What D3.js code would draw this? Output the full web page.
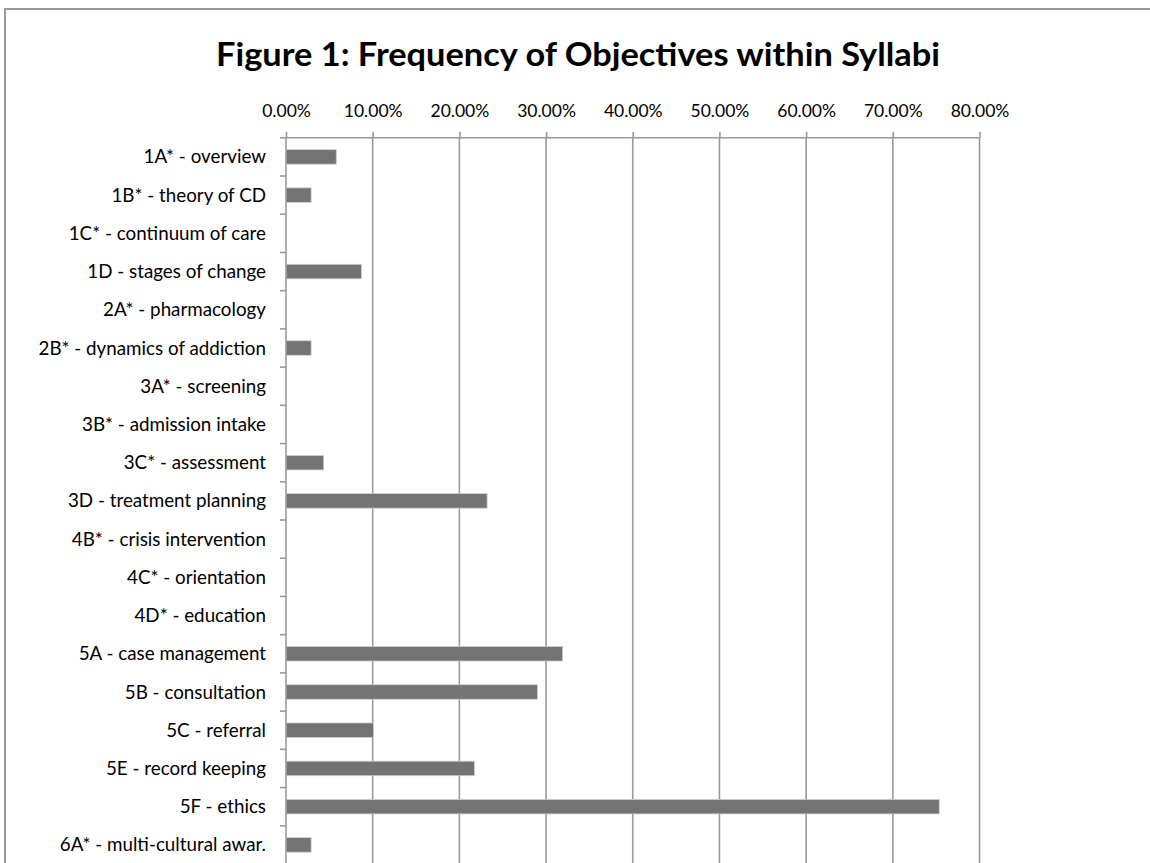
<!DOCTYPE html>
<html><head><meta charset="utf-8">
<script src="https://cdn.jsdelivr.net/npm/d3@7"></script>
<style>body{margin:0;background:#fff;}svg{display:block;font-family:Lato,"Open Sans",sans-serif;}</style>
</head><body>
<svg id="chart" width="1150" height="863"></svg>
<script>
const titleText = "Figure 1: Frequency of Objectives within Syllabi";
const categories = [
  "1A* - overview", "1B* - theory of CD", "1C* - continuum of care", "1D - stages of change",
  "2A* - pharmacology", "2B* - dynamics of addiction", "3A* - screening", "3B* - admission intake",
  "3C* - assessment", "3D - treatment planning", "4B* - crisis intervention", "4C* - orientation",
  "4D* - education", "5A - case management", "5B - consultation", "5C - referral",
  "5E - record keeping", "5F - ethics", "6A* - multi-cultural awar."
];
const values = [0.058, 0.029, 0, 0.087, 0, 0.029, 0, 0, 0.0435, 0.232, 0, 0, 0, 0.319, 0.290, 0.101, 0.2174, 0.7536, 0.029];
const tickValues = [0, 0.1, 0.2, 0.3, 0.4, 0.5, 0.6, 0.7, 0.8];

const svg = d3.select("#chart");
const pLeft = 286, pRight = 979.5, pTop = 137.8, pBottom = 864;

// frame
svg.append("rect").attr("x", 5).attr("y", 9).attr("width", 1200).attr("height", 900)
  .attr("fill", "none").attr("stroke", "#9a9a9a").attr("stroke-width", 2);

svg.append("text").attr("x", 578).attr("y", 66).attr("text-anchor", "middle")
  .attr("font-size", 32).attr("font-weight", "bold").attr("fill", "#000")
  .attr("textLength", 724).attr("lengthAdjust", "spacingAndGlyphs")
  .text(titleText);

const x = d3.scaleLinear().domain([0, 0.8]).range([pLeft, pRight]);
const y = d3.scaleBand().domain(categories).range([pTop, pBottom]).paddingInner(0.62).paddingOuter(0.31);
const step = y.step();

// gridlines
svg.append("g").selectAll("line").data(tickValues.slice(1)).join("line")
  .attr("x1", d => x(d)).attr("x2", d => x(d)).attr("y1", pTop).attr("y2", pBottom)
  .attr("stroke", "#9a9a9a").attr("stroke-width", 1.6);

// top axis
const xAxis = d3.axisTop(x).tickValues(tickValues).tickFormat(d3.format(".2%")).tickSize(6).tickPadding(15);
const gx = svg.append("g").attr("transform", `translate(0,${pTop})`).call(xAxis);
gx.select(".domain").remove();
gx.selectAll(".tick line").attr("stroke", "#9a9a9a").attr("stroke-width", 1.6);
gx.selectAll(".tick text").attr("font-size", 17.5).attr("fill", "#000").attr("font-family", "Lato");
svg.append("line").attr("x1", pLeft - 6).attr("x2", pRight).attr("y1", pTop).attr("y2", pTop)
  .attr("stroke", "#9a9a9a").attr("stroke-width", 1.6);

// bars
svg.append("g").selectAll("rect").data(categories).join("rect")
  .attr("x", x(0)).attr("y", d => y(d))
  .attr("width", (d, i) => Math.max(0, x(values[i]) - x(0))).attr("height", y.bandwidth())
  .attr("fill", "#737373")
  .attr("stroke", "#cfcfcf").attr("stroke-width", 0.8)
  .attr("display", (d, i) => values[i] > 0 ? null : "none");

// left category axis
svg.append("line").attr("x1", pLeft).attr("x2", pLeft).attr("y1", pTop).attr("y2", pBottom)
  .attr("stroke", "#9a9a9a").attr("stroke-width", 1.6);
svg.append("g").selectAll("line").data(categories.slice(1)).join("line")
  .attr("x1", pLeft - 6).attr("x2", pLeft)
  .attr("y1", d => y(d) - step * y.paddingInner() / 2).attr("y2", d => y(d) - step * y.paddingInner() / 2)
  .attr("stroke", "#9a9a9a").attr("stroke-width", 1.6);
svg.append("g").selectAll("text").data(categories).join("text")
  .attr("x", 266).attr("y", d => y(d) + y.bandwidth() / 2).attr("dy", "0.35em")
  .attr("text-anchor", "end").attr("font-size", 18.8).attr("fill", "#000")
  .text(d => d);
</script>
</body></html>
